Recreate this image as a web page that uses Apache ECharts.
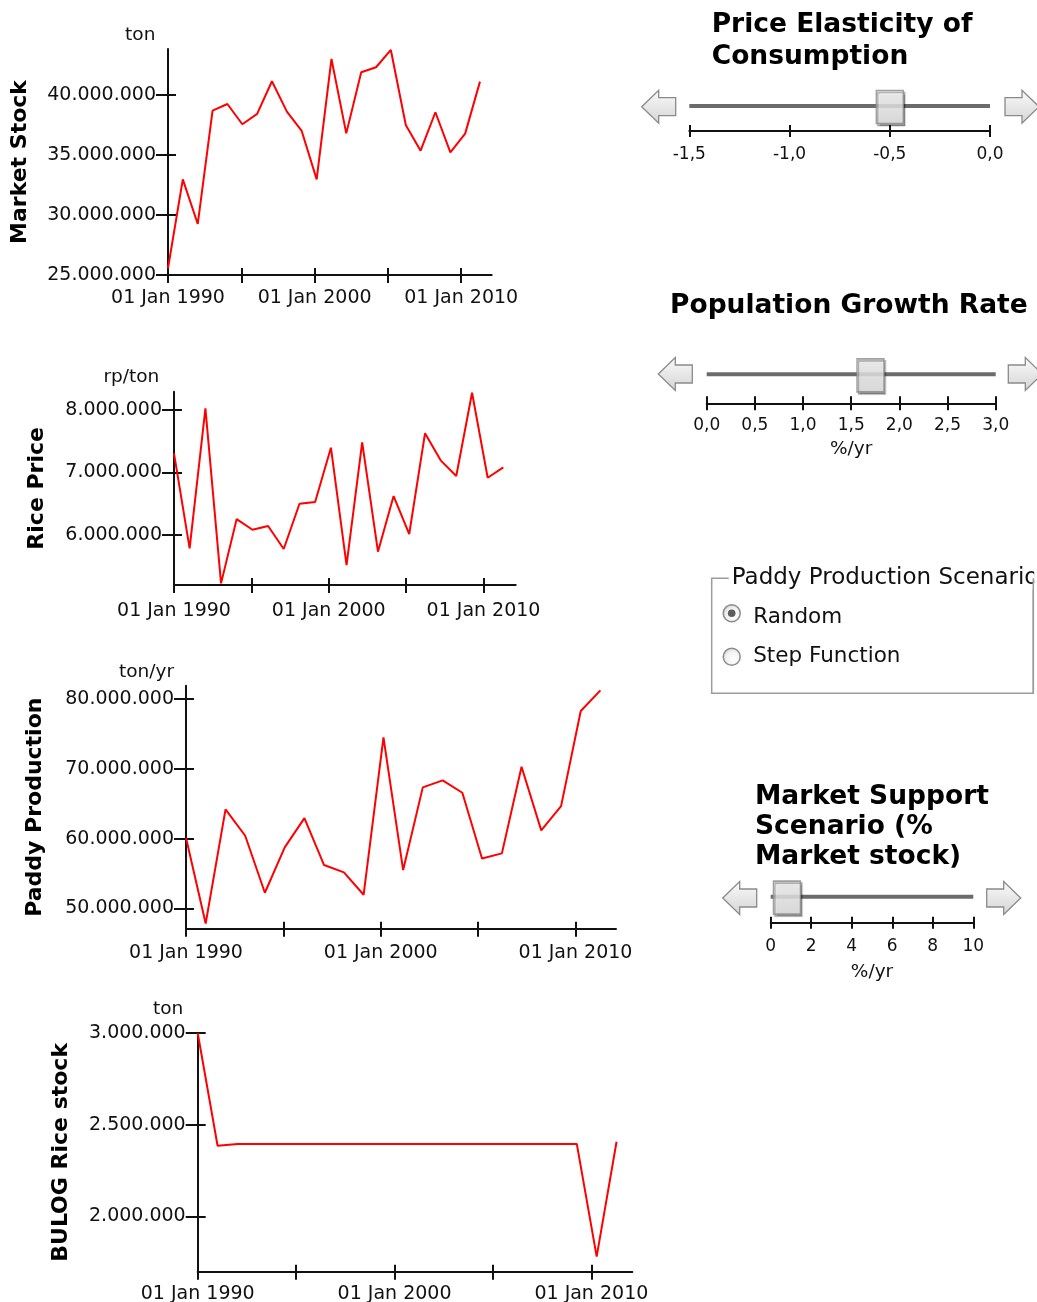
<!DOCTYPE html>
<html>
<head>
<meta charset="utf-8">
<script src="https://cdn.jsdelivr.net/npm/echarts@6/dist/echarts.min.js"></script>
<style>
  html, body { margin: 0; padding: 0; background: #fff; }
  #main { width: 1037px; height: 1302px; }
</style>
</head>
<body>
<div id="main"></div>
<script>
// time points of the simulation output (decimal years)
const years = [1990, 1991.01, 1992.03, 1993.04, 1994.05, 1995.07, 1996.08, 1997.09, 1998.11, 1999.12, 2000.14,
  2001.15, 2002.16, 2003.18, 2004.19, 2005.20, 2006.22, 2007.23, 2008.24, 2009.26, 2010.27, 2011.28];
const yearTicks = [1990, 1995, 2000, 2005, 2010];
const yearLabels = [1990, 2000, 2010];

const marketStock = [25560000, 32970000, 29250000, 38690000, 39250000, 37560000, 38420000, 41140000, 38610000, 37000000,
  32970000, 43000000, 36800000, 41890000, 42310000, 43750000, 37500000, 35360000, 38560000, 35220000, 36780000, 41110000];
const marketStockTicks = [25000000, 30000000, 35000000, 40000000];

const ricePrice = [7305000, 5781000, 8027000, 5219000, 6251000, 6080000, 6139000, 5770000, 6497000, 6524000,
  7396000, 5513000, 7481000, 5727000, 6620000, 6011000, 7626000, 7193000, 6941000, 8278000, 6914000, 7080000];
const ricePriceTicks = [6000000, 7000000, 8000000];

const paddyProduction = [60120000, 47840000, 64190000, 60410000, 52240000, 58740000, 62940000, 56210000, 55160000, 51950000,
  74510000, 55490000, 67340000, 68340000, 66570000, 57160000, 57880000, 70300000, 61180000, 64660000, 78280000, 81240000];
const paddyTicks = [50000000, 60000000, 70000000, 80000000];

const bulogStock = [3000000, 2385000, 2395000, 2395000, 2395000, 2395000, 2395000, 2395000, 2395000, 2395000,
  2395000, 2395000, 2395000, 2395000, 2395000, 2395000, 2395000, 2395000, 2395000, 2395000, 1780000, 2407000];
const bulogTicks = [2000000, 2500000, 3000000];

// slider controls
const elasticityTicks = [-1.5, -1.0, -0.5, 0.0];
const elasticityValue = -0.5;
const growthTicks = [0, 0.5, 1.0, 1.5, 2.0, 2.5, 3.0];
const growthValue = 1.7;
const supportTicks = [0, 2, 4, 6, 8, 10];
const supportValue = 0.8;

const scenarioOptions = ['Random', 'Step Function'];
const scenarioSelected = 'Random';

const ink = '#111';
const font = 'DejaVu Sans';

function dotted(v) {
  return String(Math.round(v)).replace(/\B(?=(\d{3})+(?!\d))/g, '.');
}

const chartSpecs = [
  { values: marketStock, ticks: marketStockTicks, title: 'Market Stock', unit: 'ton',
    min: 25000000, max: 43830000, left: 168, top: 49, width: 323.7, height: 226,
    titleGap: 136.7, unitGap: 4.6, unitPad: 12.6, dateGap: 14 },
  { values: ricePrice, ticks: ricePriceTicks, title: 'Rice Price', unit: 'rp/ton',
    min: 5193000, max: 8294000, left: 174, top: 391.7, width: 341.7, height: 193.3,
    titleGap: 126.2, unitGap: 5, unitPad: 14.7, dateGap: 16.5 },
  { values: paddyProduction, ticks: paddyTicks, title: 'Paddy Production', unit: 'ton/yr',
    min: 47090000, max: 81910000, left: 186, top: 685.7, width: 430, height: 243,
    titleGap: 139.4, unitGap: 3.7, unitPad: 12, dateGap: 14.5 },
  { values: bulogStock, ticks: bulogTicks, title: 'BULOG Rice stock', unit: 'ton',
    min: 1698000, max: 3000000, left: 197.7, top: 1033, width: 434.6, height: 238.7,
    titleGap: 125, unitGap: 14.3, unitPad: 14.4, dateGap: 13 },
];

const sliderSpecs = [
  { title: ['Price Elasticity of', 'Consumption'], titleX: 711.7, titleY: [25.5, 57],
    ticks: elasticityTicks, value: elasticityValue, unit: '', fmt: v => v.toFixed(1).replace('.', ','),
    left: 689.3, top: 106, width: 300.7, height: 25, tickLen: 6, labelGap: 15, unitGap: 0,
    arrowY: 106.7, arrowL: 641.7, arrowR: 1005 },
  { title: ['Population Growth Rate'], titleX: 670, titleY: [306],
    ticks: growthTicks, value: growthValue, unit: '%/yr', fmt: v => v.toFixed(1).replace('.', ','),
    left: 706.7, top: 374.3, width: 289, height: 29, tickLen: 7, labelGap: 14, unitGap: 36.5,
    arrowY: 374, arrowL: 658.3, arrowR: 1008.3 },
  { title: ['Market Support', 'Scenario (%', 'Market stock)'], titleX: 755, titleY: [797, 827, 857],
    ticks: supportTicks, value: supportValue, unit: '%/yr', fmt: v => String(v),
    left: 770.7, top: 896.7, width: 202.6, height: 26, tickLen: 6, labelGap: 15.5, unitGap: 40,
    arrowY: 898, arrowL: 722.7, arrowR: 986.7 },
];

const grids = [];
const xAxes = [];
const yAxes = [];
const series = [];
const graphics = [];

function addChart(c) {
  const g = grids.length;
  grids.push({ left: c.left, top: c.top, width: c.width, height: c.height,
    containLabel: false, outerBoundsMode: 'none' });
  const xi = xAxes.length;
  const yi = yAxes.length;
  const line = { color: ink, width: 2 };
  const xBase = { gridIndex: g, type: 'value', position: 'bottom', min: 1990, max: 2012.08,
    splitLine: { show: false } };
  xAxes.push(Object.assign({}, xBase, {
    axisLine: { onZero: false, lineStyle: line },
    axisTick: { customValues: yearTicks, length: 8, lineStyle: line },
    axisLabel: { customValues: yearLabels, formatter: v => '01 Jan ' + v, margin: c.dateGap,
      fontSize: 19, color: ink, fontFamily: font },
  }));
  xAxes.push(Object.assign({}, xBase, {
    axisLine: { show: false, onZero: false },
    axisTick: { customValues: yearTicks, inside: true, length: 7, lineStyle: line },
    axisLabel: { show: false },
  }));
  const yBase = { gridIndex: g, type: 'value', position: 'left', min: c.min, max: c.max,
    splitLine: { show: false }, nameMoveOverlap: false };
  yAxes.push(Object.assign({}, yBase, {
    axisLine: { onZero: false, lineStyle: line },
    axisTick: { customValues: c.ticks, length: 12, lineStyle: line },
    axisLabel: { customValues: c.ticks, formatter: dotted, margin: 12, fontSize: 19,
      color: ink, fontFamily: font },
    name: c.unit, nameLocation: 'end', nameGap: c.unitGap,
    nameTextStyle: { align: 'right', padding: [0, c.unitPad, 0, 0], fontSize: 18.5,
      color: ink, fontFamily: font },
  }));
  yAxes.push(Object.assign({}, yBase, {
    axisLine: { show: false, onZero: false },
    axisTick: { customValues: c.ticks, inside: true, length: 8, lineStyle: line },
    axisLabel: { show: false },
    name: c.title, nameLocation: 'middle', nameRotate: 90, nameGap: c.titleGap,
    nameTextStyle: { fontSize: 22, fontWeight: 'bold', color: '#000', fontFamily: font },
  }));
  series.push({
    type: 'line', xAxisIndex: xi, yAxisIndex: yi,
    data: years.map((yr, i) => [yr, c.values[i]]),
    showSymbol: false, symbol: 'none', silent: true,
    lineStyle: { color: '#ff0000', width: 2 },
  });
}

function arrow(x, cy, dir) {
  const w = 34, hh = 16.5, sh = 9, head = 17;
  let pts;
  if (dir < 0) {
    pts = [[x, cy], [x + head, cy - hh], [x + head, cy - sh], [x + w, cy - sh],
      [x + w, cy + sh], [x + head, cy + sh], [x + head, cy + hh]];
  } else {
    pts = [[x + w, cy], [x + w - head, cy - hh], [x + w - head, cy - sh], [x, cy - sh],
      [x, cy + sh], [x + w - head, cy + sh], [x + w - head, cy + hh]];
  }
  return {
    type: 'polygon', shape: { points: pts }, silent: true,
    style: {
      fill: new echarts.graphic.LinearGradient(0, 0, 0, 1, [
        { offset: 0, color: '#fbfbfb' }, { offset: 1, color: '#d4d4d4' }]),
      stroke: '#8a8a8a', lineWidth: 1.3,
    },
  };
}

function addSlider(s) {
  const g = grids.length;
  const min = s.ticks[0];
  const max = s.ticks[s.ticks.length - 1];
  grids.push({ left: s.left, top: s.top, width: s.width, height: s.height,
    containLabel: false, outerBoundsMode: 'none' });
  const xi = xAxes.length;
  const yi = yAxes.length;
  const line = { color: ink, width: 2 };
  const xBase = { gridIndex: g, type: 'value', position: 'bottom', min: min, max: max,
    splitLine: { show: false } };
  xAxes.push(Object.assign({}, xBase, {
    axisLine: { onZero: false, lineStyle: line },
    axisTick: { customValues: s.ticks, length: s.tickLen, lineStyle: line },
    axisLabel: { customValues: s.ticks, formatter: s.fmt, margin: s.labelGap, fontSize: 17,
      color: ink, fontFamily: font },
    name: s.unit, nameLocation: 'middle', nameGap: s.unitGap,
    nameTextStyle: { fontSize: 18.5, color: ink, fontFamily: font },
  }));
  xAxes.push(Object.assign({}, xBase, {
    axisLine: { show: false, onZero: false },
    axisTick: { customValues: s.ticks, inside: true, length: s.tickLen, lineStyle: line },
    axisLabel: { show: false },
  }));
  yAxes.push({ gridIndex: g, type: 'value', min: 0, max: 1, show: false });
  // track
  series.push({
    type: 'line', xAxisIndex: xi, yAxisIndex: yi, data: [[min, 1], [max, 1]],
    symbol: 'none', silent: true, clip: false, z: 3,
    lineStyle: { color: '#6b6b6b', width: 4 },
  });
  // thumb
  series.push({
    type: 'scatter', xAxisIndex: xi, yAxisIndex: yi, data: [[s.value, 1]],
    symbol: 'rect', symbolSize: [27, 33], symbolOffset: [0, 1], silent: true, clip: false, z: 4,
    itemStyle: {
      color: new echarts.graphic.LinearGradient(0, 0, 0, 1, [
        { offset: 0, color: '#f7f7f7' }, { offset: 1, color: '#e2e2e2' }]),
      borderColor: '#8a8a8a', borderWidth: 1.5, borderRadius: 3,
      shadowColor: 'rgba(0,0,0,0.4)', shadowOffsetX: 1.5, shadowOffsetY: 2, shadowBlur: 1,
    },
  });
  s.title.forEach((t, i) => {
    graphics.push({
      type: 'text', silent: true,
      style: { text: t, x: s.titleX, y: s.titleY[i], fill: '#000', fontSize: 26.5,
        fontWeight: 'bold', fontFamily: font, verticalAlign: 'middle' },
    });
  });
  graphics.push(arrow(s.arrowL, s.arrowY, -1));
  graphics.push(arrow(s.arrowR, s.arrowY, 1));
}

chartSpecs.forEach(addChart);
sliderSpecs.forEach(addSlider);

// radio group "Paddy Production Scenario"
graphics.push({
  type: 'rect', silent: true, z: 1,
  shape: { x: 711.7, y: 578.3, width: 321.6, height: 115 },
  style: { fill: null, stroke: '#9c9c9c', lineWidth: 1.5 },
});
graphics.push({
  type: 'text', silent: true, z: 2,
  style: { text: 'Paddy Production Scenario', x: 728.7, y: 578, fill: ink, fontSize: 23,
    fontFamily: font, verticalAlign: 'middle', backgroundColor: '#fff', padding: [0, 3] },
});
graphics.push({
  type: 'rect', silent: true, z: 3,
  shape: { x: 1034.2, y: 560, width: 10, height: 40 },
  style: { fill: '#fff' },
});
graphics.push({
  type: 'line', silent: true, z: 4,
  shape: { x1: 1033.3, y1: 578.3, x2: 1033.3, y2: 693.3 },
  style: { stroke: '#9c9c9c', lineWidth: 1.5 },
});
scenarioOptions.forEach((label, i) => {
  const cy = [613.3, 656.7][i];
  graphics.push({
    type: 'circle', silent: true, z: 2,
    shape: { cx: 731.7, cy: cy, r: 8.5 },
    style: {
      fill: new echarts.graphic.RadialGradient(0.6, 0.6, 0.7, [
        { offset: 0, color: '#ffffff' }, { offset: 0.6, color: '#f0f0f0' }, { offset: 1, color: '#b8b8b8' }]),
      stroke: '#8c8c8c', lineWidth: 1.5,
    },
  });
  if (label === scenarioSelected) {
    graphics.push({
      type: 'circle', silent: true, z: 3,
      shape: { cx: 731.7, cy: cy, r: 3.8 },
      style: { fill: '#5c5c5c' },
    });
  }
  graphics.push({
    type: 'text', silent: true, z: 2,
    style: { text: label, x: 753.2, y: [617.6, 656][i], fill: ink, fontSize: 21.5,
      fontFamily: font, verticalAlign: 'middle' },
  });
});

const myChart = echarts.init(document.getElementById('main'));
myChart.setOption({
  animation: false,
  backgroundColor: '#fff',
  textStyle: { fontFamily: font },
  grid: grids,
  xAxis: xAxes,
  yAxis: yAxes,
  series: series,
  graphic: { elements: graphics },
});
</script>
</body>
</html>
